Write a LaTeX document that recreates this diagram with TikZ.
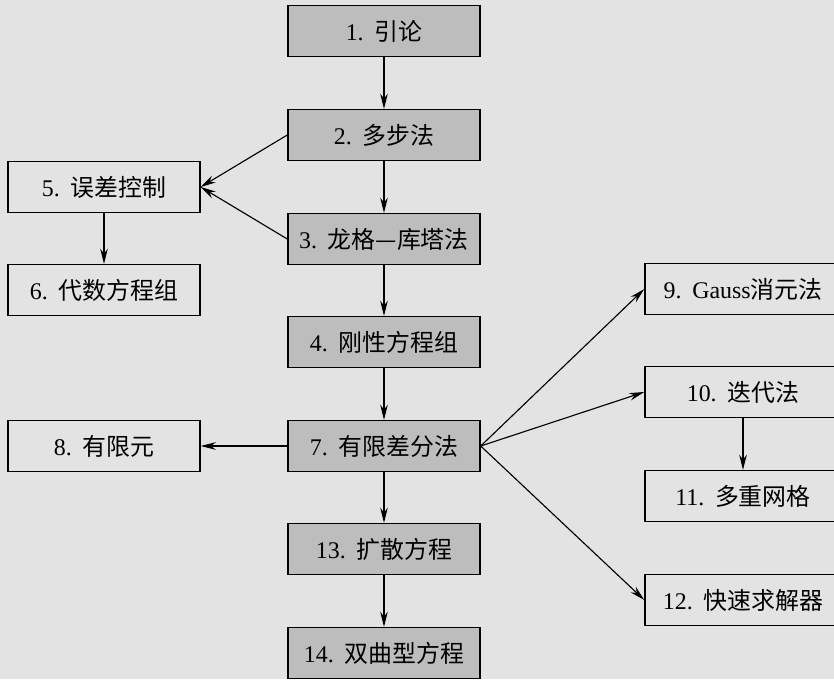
\documentclass[tikz,border=0pt]{standalone}
\usepackage{fontspec}
\setmainfont{Liberation Serif}
\newfontfamily\cjk{Noto Sans CJK SC}
\usetikzlibrary{arrows.meta}
\definecolor{paper}{gray}{0.89}
\definecolor{boxgray}{gray}{0.74}
\newcommand{\gap}{\hspace{0.45em}}
\begin{document}
\begin{tikzpicture}
          [font=\fontsize{17}{20}\selectfont,
          main/.style={shape=rectangle,draw=black,fill=boxgray,line width=1pt,minimum width=4.8cm,minimum height=1.27cm},
          side/.style={shape=rectangle,draw=black,line width=1pt,minimum width=4.8cm,minimum height=1.27cm},
          arc/.style={-{Stealth[length=3.8mm,width=1.9mm]},line width=0.8pt}]

            \useasboundingbox (0,0) rectangle (20.85,-16.975);
            \fill [paper] (0,0) rectangle (20.85,-16.975);

            \node (1) [main] at (9.6,-0.775) {1.\gap{\cjk 引论}};
            \node (2) [main] at (9.6,-3.375) {2.\gap{\cjk 多步法}};
            \node (3) [main] at (9.6,-5.975) {3.\gap{\cjk 龙格—库塔法}};
            \node (4) [main] at (9.6,-8.55) {4.\gap{\cjk 刚性方程组}};
            \node (7) [main] at (9.6,-11.15) {7.\gap{\cjk 有限差分法}};
            \node (13) [main] at (9.6,-13.725) {13.\gap{\cjk 扩散方程}};
            \node (14) [main] at (9.6,-16.325) {14.\gap{\cjk 双曲型方程}};

            \node (5) [side] at (2.6,-4.675) {5.\gap{\cjk 误差控制}};
            \node (6) [side] at (2.6,-7.25) {6.\gap{\cjk 代数方程组}};
            \node (8) [side] at (2.6,-11.15) {8.\gap{\cjk 有限元}};

            \node (9) [side,minimum width=4.9cm] at (18.575,-7.225) {9.\gap Gauss{\cjk 消元法}};
            \node (10) [side,minimum width=4.9cm] at (18.575,-9.8) {10.\gap{\cjk 迭代法}};
            \node (11) [side,minimum width=4.9cm] at (18.575,-12.4) {11.\gap{\cjk 多重网格}};
            \node (12) [side,minimum width=4.9cm] at (18.575,-15.0) {12.\gap{\cjk 快速求解器}};

          \draw [arc] (1) to (2);
          \draw [arc] (2) to (3);
          \draw [arc] (3) to (4);
          \draw [arc] (4) to (7);
          \draw [arc] (7) to (13);
          \draw [arc] (13) to (14);
          \draw [arc] (2.west) to (5.east);
          \draw [arc] (3.west) to (5.east);
          \draw [arc] (5) to (6);
          \draw [arc] (7) to (8);
          \draw [arc] (7.east) to (9.west);
          \draw [arc] (7.east) to (10.west);
          \draw [arc] (7.east) to (12.west);
          \draw [arc] (10) to (11);

        \end{tikzpicture}
\end{document}
